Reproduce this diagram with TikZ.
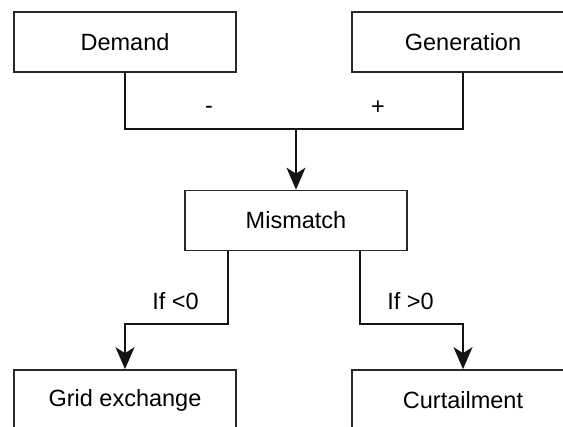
\documentclass[tikz,border=0pt]{standalone}
\usepackage{fontspec}
\setmainfont{Liberation Sans}
\usepackage{tikz}
\usetikzlibrary{arrows.meta, positioning}
\definecolor{boxline}{RGB}{40,40,40}
\definecolor{linedark}{RGB}{20,20,20}
\tikzset{
  block/.style={rectangle, draw=boxline, fill=white,
    minimum width=111pt, minimum height=30pt, inner sep=0pt,
    font=\fontsize{11.75}{14}\selectfont, line width=0.85pt},
  lbl/.style={font=\fontsize{11.75}{14}\selectfont, inner sep=0pt},
  arrow/.style={-{Stealth[length=11pt, width=9.5pt, inset=3pt]},
    line width=0.8pt, color=linedark},
  line/.style={line width=0.8pt, color=linedark}
}

\begin{document}
\begin{tikzpicture}[x=0.5pt, y=-0.5pt]
  \useasboundingbox (0,0) rectangle (563,427);
  \clip (0,0) rectangle (563,427);

  % Inputs
  \node[block] (dem) at (125,42) {Demand};
  \node[block] (gen) at (463,42) {Generation};

  % Balance
  \node[block] (mis) at (296,220.5) {Mismatch};

  % Outcomes
  \node[block] (grid) at (125,400) {Grid exchange};
  \node[block] (curt) at (463,400) {Curtailment};

  % Summing bus
  \coordinate (bus) at (296,129);
  \draw[line] (dem.south) |- (bus) -| (gen.south);
  \draw[arrow] (bus) -- (mis.north);
  \node[lbl] (minus) at (209,110) {-};
  \node[lbl] (plus) at (378,108) {+};

  % Branches
  \coordinate (lt) at (228,324);
  \coordinate (rt) at (360,324);
  \draw[arrow] (lt |- mis.south) -- (lt) -| (grid.north);
  \draw[arrow] (rt |- mis.south) -- (rt) -| (curt.north);
  \node[lbl] (neg) at (175.5,301) {If <0};
  \node[lbl] (pos) at (410.5,301) {If >0};
\end{tikzpicture}
\end{document}
